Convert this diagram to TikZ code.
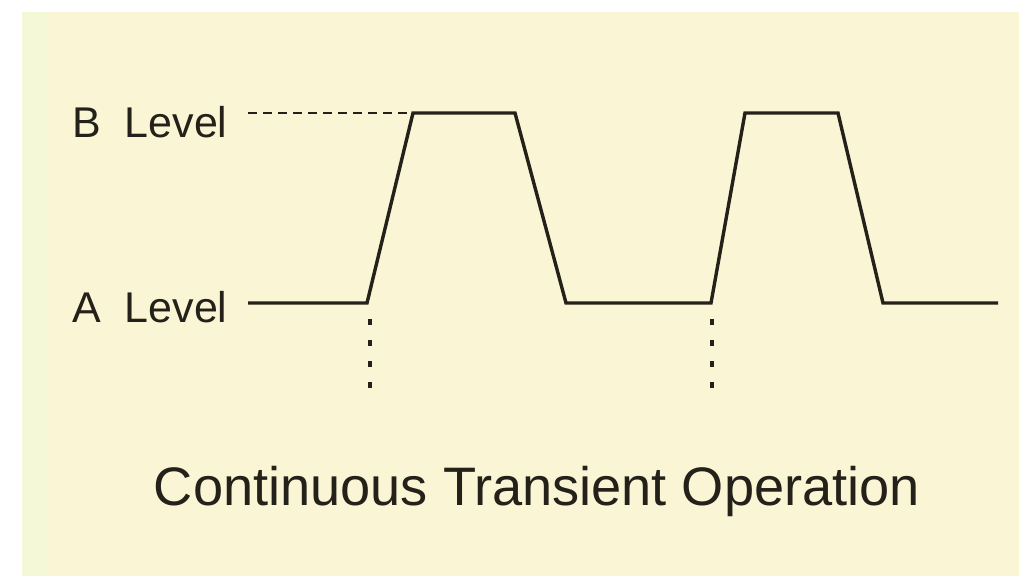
\documentclass[tikz,border=0pt]{standalone}
\usepackage{fontspec}
\setmainfont{Liberation Sans}
\definecolor{cream}{RGB}{250,246,213}
\definecolor{creamgreen}{RGB}{244,248,214}
\definecolor{ink}{RGB}{35,33,25}
\begin{document}
\begin{tikzpicture}[x=1pt,y=-1pt,
  lbl/.style={inner sep=0pt,text=ink,font=\fontsize{43}{50}\selectfont},
  ttl/.style={inner sep=0pt,text=ink,font=\fontsize{54.2}{60}\selectfont},
  wave/.style={draw=ink,line width=3.4pt,line join=miter},
  dashB/.style={draw=ink,line width=2.8pt,dash pattern=on 9pt off 6pt},
  dotV/.style={draw=ink,line width=3.6pt,dash pattern=on 6pt off 15pt}]
\useasboundingbox (0,0) rectangle (1019,586);
\fill[white] (0,0) rectangle (1019,586);
\fill[creamgreen] (22,12) rectangle (1019,576);
\fill[cream] (48,12) rectangle (1019,576);
% labels
\node[lbl,anchor=base west] (blabel) at (72,137) {B\ \ Level};
\node[lbl,anchor=base west] (alabel) at (72,322) {A\ \ Level};
\node[ttl,anchor=base] (title) at (537,505) {Continuous Transient Operation};
% waveform points
\coordinate (w0) at (248,303);
\coordinate (w1) at (367,303);
\coordinate (w2) at (413,113);
\coordinate (w3) at (515,113);
\coordinate (w4) at (566,303);
\coordinate (w5) at (711,303);
\coordinate (w6) at (745,113);
\coordinate (w7) at (838,113);
\coordinate (w8) at (883,303);
\coordinate (w9) at (998,303);
\draw[wave] (w0) -- (w1) -- (w2) -- (w3) -- (w4) -- (w5) -- (w6) -- (w7) -- (w8) -- (w9);
% B level dashed reference
\coordinate (bstart) at (248,113);
\draw[dashB] (bstart) -- (w2);
% vertical dotted markers
\coordinate (m1a) at (370,319);
\coordinate (m1b) at (370,390);
\coordinate (m2a) at (712,319);
\coordinate (m2b) at (712,390);
\draw[dotV] (m1a) -- (m1b);
\draw[dotV] (m2a) -- (m2b);
\end{tikzpicture}
\end{document}
